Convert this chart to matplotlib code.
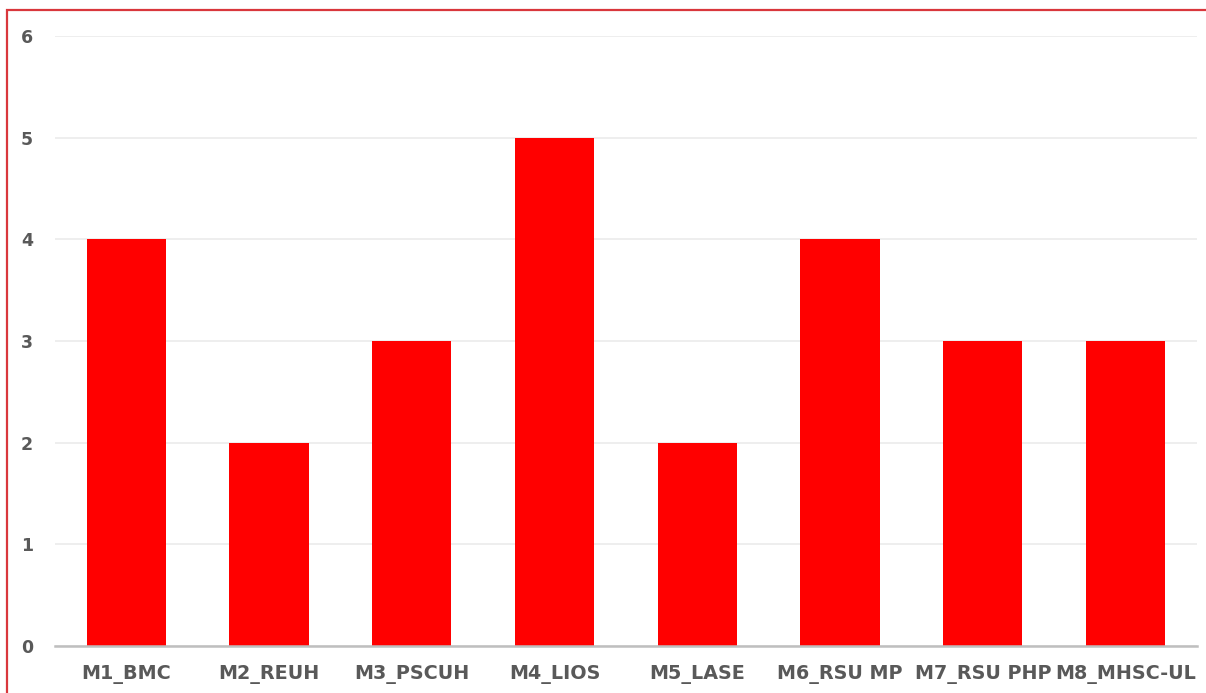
import matplotlib.pyplot as plt
from matplotlib.patches import Rectangle

categories = ["M1_BMC", "M2_REUH", "M3_PSCUH", "M4_LIOS", "M5_LASE",
              "M6_RSU MP", "M7_RSU PHP", "M8_MHSC-UL"]
values = [4, 2, 3, 5, 2, 4, 3, 3]
yticks = [0, 1, 2, 3, 4, 5, 6]

plt.rcParams['font.family'] = ['DejaVu Sans']

fig = plt.figure(figsize=(12.06, 6.93), dpi=100)
ax = fig.add_axes([0.0456, 0.0678, 0.9469, 0.8802])

x = range(len(categories))
ax.bar(x, values, width=0.555, color="#FF0000", zorder=3)

ax.set_xlim(-0.5, len(categories) - 0.5)
ax.set_ylim(0, 6)
ax.set_yticks(yticks)
ax.set_xticks(list(x))
ax.set_xticklabels(categories)
ax.yaxis.grid(True, color="#EBEBEB", linewidth=1.2, zorder=0)

for s in ["left", "right", "top"]:
    ax.spines[s].set_visible(False)
ax.spines["bottom"].set_color("#BFBFBF")
ax.spines["bottom"].set_linewidth(1.8)
ax.spines["bottom"].set_zorder(4)

ax.tick_params(axis="both", length=0, labelcolor="#595959")
ax.tick_params(axis="x", pad=14, labelsize=13.8)
ax.tick_params(axis="y", pad=16, labelsize=12.5)
for lab in ax.get_xticklabels() + ax.get_yticklabels():
    lab.set_fontweight("bold")

# red frame around the chart area
fig.patches.append(Rectangle((7 / 1206, -0.05), 1.05, 1 - 10 / 693 + 0.05,
                             transform=fig.transFigure, fill=False,
                             edgecolor="#D9373C", linewidth=1.6))

fig.savefig("out.png", dpi=100)
